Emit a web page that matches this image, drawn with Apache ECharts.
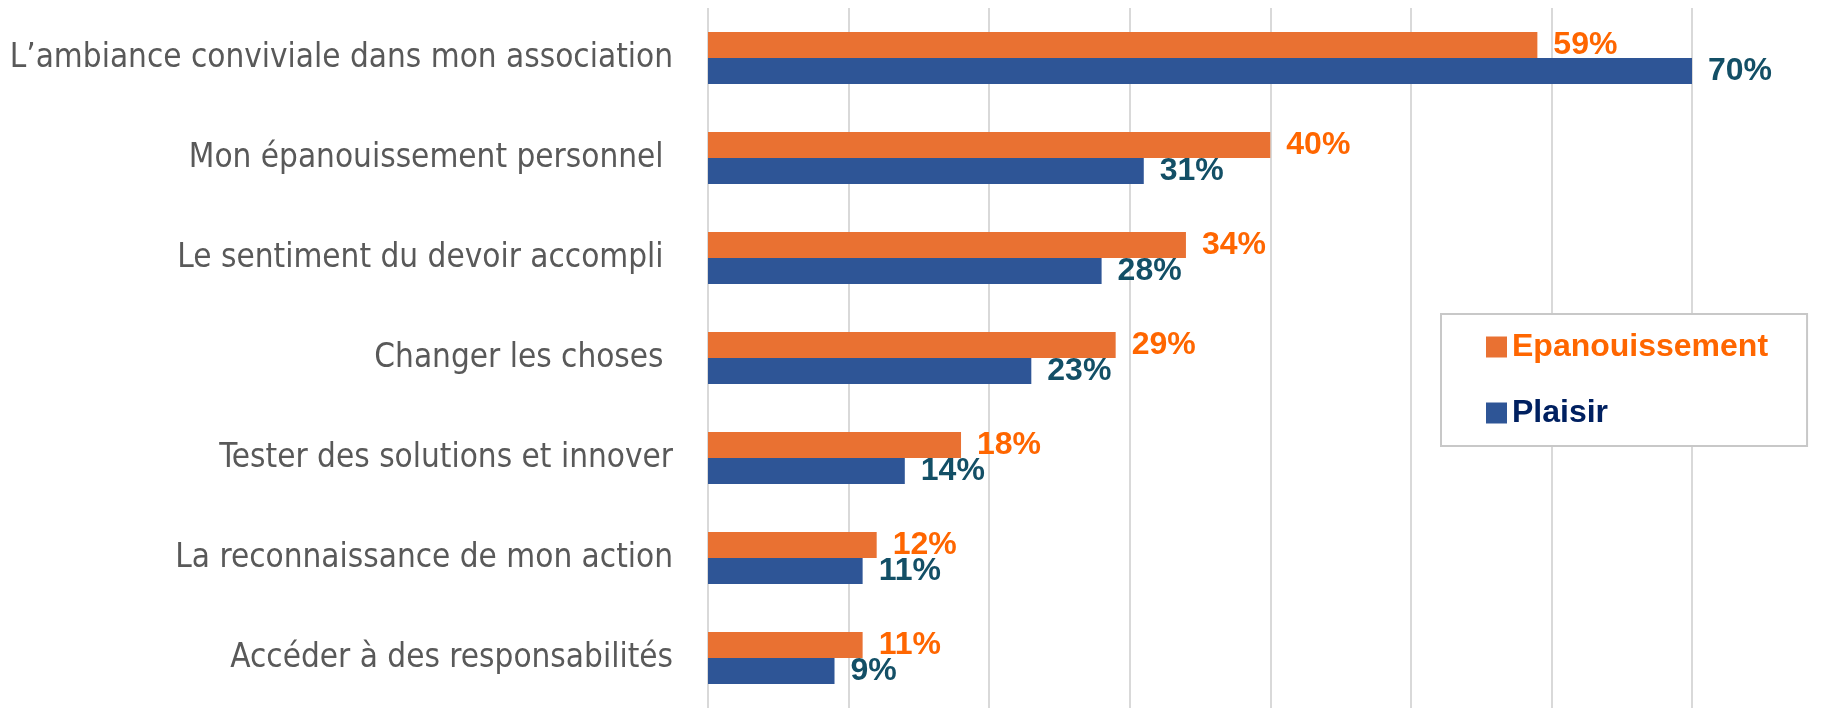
<!DOCTYPE html>
<html>
<head>
<meta charset="utf-8">
<script src="https://cdn.jsdelivr.net/npm/echarts@6/dist/echarts.min.js"></script>
<style>
  html, body { margin: 0; padding: 0; background: #fff; }
  #chart { width: 1825px; height: 711px; }
</style>
</head>
<body>
<div id="chart"></div>
<script>
// données (en %)
const categories = [
  'L’ambiance conviviale dans mon association',
  'Mon épanouissement personnel ',
  'Le sentiment du devoir accompli ',
  'Changer les choses ',
  'Tester des solutions et innover',
  'La reconnaissance de mon action',
  'Accéder à des responsabilités'
];
const epanouissement = [59, 40, 34, 29, 18, 12, 11];
const plaisir = [70, 31, 28, 23, 14, 11, 9];

const chart = echarts.init(document.getElementById('chart'));

const labelStyle = (color) => ({
  show: true,
  position: 'right',
  distance: 16,
  formatter: '{c}%',
  color: color,
  fontFamily: "'Liberation Sans', Arial, sans-serif",
  fontWeight: 'bold',
  fontSize: 32
});

const option = {
  animation: false,
  backgroundColor: '#fff',
  grid: { left: 708, right: 133, top: 8, bottom: 3, outerBoundsMode: 'none' },
  xAxis: {
    type: 'value',
    min: 0,
    max: 70,
    interval: 10,
    axisLabel: { show: false },
    axisLine: { show: false },
    axisTick: { show: false },
    splitLine: { lineStyle: { color: '#d9d9d9', width: 2 } }
  },
  yAxis: {
    type: 'category',
    inverse: true,
    data: categories,
    axisLine: { show: false },
    axisTick: { show: false },
    axisLabel: {
      margin: 35,
      color: '#595959',
      fontSize: 33,
      fontFamily: "'DejaVu Sans Condensed', 'Liberation Sans Narrow', sans-serif"
    }
  },
  legend: {
    orient: 'vertical',
    left: 1441,
    top: 314,
    backgroundColor: '#fff',
    borderColor: '#c8c8c8',
    borderWidth: 2,
    padding: [17, 39, 17, 45],
    itemWidth: 21,
    itemHeight: 21,
    itemGap: 34,
    itemTextGap: 11,
    icon: 'rect',
    textStyle: {
      fontFamily: "'Liberation Sans', Arial, sans-serif",
      fontWeight: 'bold',
      fontSize: 32,
      lineHeight: 32
    },
    data: [
      { name: 'Epanouissement', textStyle: { color: '#ff6600' } },
      { name: 'Plaisir', textStyle: { color: '#002060' } }
    ]
  },
  series: [
    {
      name: 'Epanouissement',
      type: 'bar',
      data: epanouissement,
      barWidth: 26,
      barGap: '0%',
      itemStyle: { color: '#e97132' },
      label: labelStyle('#ff6600')
    },
    {
      name: 'Plaisir',
      type: 'bar',
      data: plaisir,
      barWidth: 26,
      itemStyle: { color: '#2e5596' },
      label: labelStyle('#134f66')
    }
  ]
};

chart.setOption(option);
</script>
</body>
</html>
